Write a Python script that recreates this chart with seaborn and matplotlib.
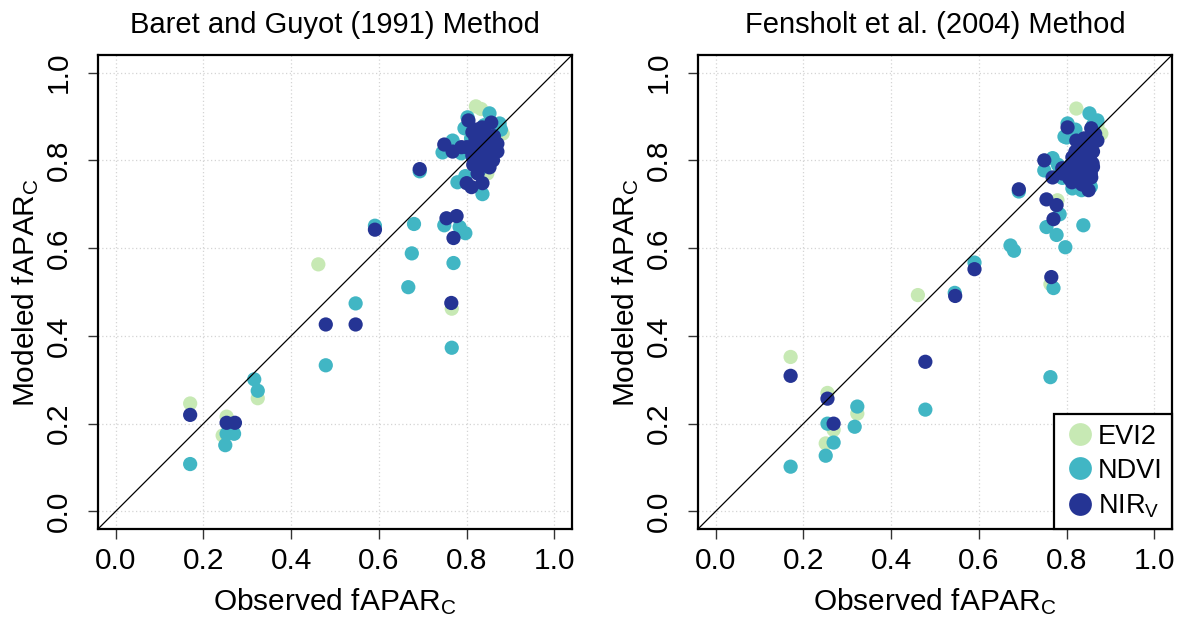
import numpy as np
import pandas as pd
import matplotlib
matplotlib.use("Agg")
import matplotlib.pyplot as plt
import seaborn as sns

# Observed vs modeled canopy fAPAR for three vegetation indices
methods = ["Baret and Guyot (1991) Method", "Fensholt et al. (2004) Method"]
index_labels = ["EVI2", "NDVI", "NIR$_V$"]
index_colors = ["#c7e9b4", "#41b6c4", "#253494"]

# Baret and Guyot (1991)
bg_evi2_obs = [0.170, 0.253, 0.244, 0.324, 0.462, 0.766, 0.821, 0.833, 0.882, 0.847, 0.860]
bg_evi2_mod = [0.246, 0.216, 0.173, 0.258, 0.563, 0.462, 0.923, 0.917, 0.861, 0.770, 0.880]

bg_ndvi_obs = [0.170, 0.253, 0.270, 0.250, 0.316, 0.324, 0.479, 0.547, 0.591, 0.667, 0.675,
               0.680, 0.693, 0.766, 0.770, 0.749, 0.784, 0.797, 0.779, 0.797, 0.836, 0.745,
               0.768, 0.788, 0.795, 0.802, 0.852, 0.875, 0.878, 0.840, 0.860, 0.820, 0.845,
               0.810, 0.830]
bg_ndvi_mod = [0.108, 0.177, 0.177, 0.151, 0.301, 0.275, 0.333, 0.474, 0.651, 0.511, 0.588,
               0.655, 0.775, 0.373, 0.566, 0.652, 0.648, 0.634, 0.750, 0.764, 0.723, 0.818,
               0.845, 0.816, 0.873, 0.898, 0.907, 0.884, 0.870, 0.880, 0.860, 0.800, 0.830,
               0.850, 0.780]

bg_nirv_obs = [0.170, 0.253, 0.272, 0.479, 0.547, 0.591, 0.693, 0.765, 0.770, 0.754, 0.777,
               0.800, 0.811, 0.836, 0.825, 0.749, 0.768, 0.788, 0.804, 0.856, 0.813, 0.834,
               0.825, 0.845, 0.870, 0.813, 0.836, 0.856, 0.829, 0.852, 0.820, 0.840, 0.808,
               0.850, 0.830, 0.815, 0.862, 0.838, 0.820, 0.830, 0.840, 0.850, 0.860, 0.822,
               0.835, 0.845, 0.860, 0.870, 0.800, 0.815]
bg_nirv_mod = [0.220, 0.202, 0.202, 0.426, 0.426, 0.642, 0.780, 0.475, 0.623, 0.668, 0.673,
               0.748, 0.739, 0.748, 0.770, 0.836, 0.820, 0.830, 0.891, 0.886, 0.864, 0.861,
               0.838, 0.845, 0.838, 0.811, 0.807, 0.811, 0.793, 0.784, 0.825, 0.870, 0.830,
               0.825, 0.850, 0.790, 0.855, 0.820, 0.850, 0.830, 0.810, 0.850, 0.830, 0.870,
               0.875, 0.795, 0.800, 0.820, 0.830, 0.805]

# Fensholt et al. (2004)
fe_evi2_obs = [0.171, 0.255, 0.269, 0.251, 0.323, 0.461, 0.763, 0.779, 0.822, 0.879, 0.870]
fe_evi2_mod = [0.352, 0.270, 0.186, 0.155, 0.223, 0.493, 0.518, 0.709, 0.918, 0.861, 0.880]

fe_ndvi_obs = [0.171, 0.255, 0.269, 0.251, 0.323, 0.317, 0.478, 0.545, 0.590, 0.672, 0.680,
               0.691, 0.763, 0.770, 0.754, 0.777, 0.797, 0.784, 0.838, 0.749, 0.768, 0.800,
               0.802, 0.852, 0.870, 0.795, 0.813, 0.834, 0.790, 0.780, 0.860, 0.820, 0.845,
               0.825, 0.855]
fe_ndvi_mod = [0.102, 0.200, 0.157, 0.127, 0.239, 0.193, 0.232, 0.498, 0.567, 0.606, 0.594,
               0.729, 0.306, 0.509, 0.648, 0.630, 0.602, 0.677, 0.652, 0.777, 0.805, 0.852,
               0.884, 0.907, 0.891, 0.854, 0.736, 0.732, 0.760, 0.790, 0.880, 0.870, 0.760,
               0.740, 0.740]

fe_nirv_obs = [0.171, 0.255, 0.269, 0.478, 0.546, 0.590, 0.691, 0.765, 0.770, 0.754, 0.777,
               0.749, 0.768, 0.790, 0.802, 0.856, 0.822, 0.870, 0.845, 0.813, 0.829, 0.859,
               0.806, 0.836, 0.856, 0.850, 0.820, 0.840, 0.825, 0.845, 0.810, 0.855, 0.830,
               0.865, 0.810, 0.820, 0.830, 0.840, 0.850, 0.860, 0.820, 0.830, 0.840, 0.850,
               0.800, 0.790, 0.812, 0.855, 0.860, 0.835]
fe_nirv_mod = [0.309, 0.257, 0.200, 0.341, 0.491, 0.552, 0.734, 0.534, 0.666, 0.711, 0.698,
               0.800, 0.761, 0.782, 0.875, 0.873, 0.845, 0.845, 0.827, 0.807, 0.784, 0.793,
               0.759, 0.755, 0.761, 0.732, 0.780, 0.800, 0.820, 0.775, 0.790, 0.815, 0.765,
               0.860, 0.770, 0.760, 0.800, 0.780, 0.800, 0.820, 0.820, 0.840, 0.850, 0.840,
               0.780, 0.770, 0.750, 0.770, 0.785, 0.745]

panels = [
    [(bg_evi2_obs, bg_evi2_mod), (bg_ndvi_obs, bg_ndvi_mod), (bg_nirv_obs, bg_nirv_mod)],
    [(fe_evi2_obs, fe_evi2_mod), (fe_ndvi_obs, fe_ndvi_mod), (fe_nirv_obs, fe_nirv_mod)],
]
ticks = [0.0, 0.2, 0.4, 0.6, 0.8, 1.0]
tick_labels = ["0.0", "0.2", "0.4", "0.6", "0.8", "1.0"]

sns.set_theme(style="white")
plt.rcParams["font.family"] = ["Liberation Sans", "DejaVu Sans"]
plt.rcParams["mathtext.default"] = "regular"
plt.rcParams["text.color"] = "black"
plt.rcParams["axes.labelcolor"] = "black"
plt.rcParams["xtick.color"] = "black"
plt.rcParams["ytick.color"] = "black"

fig = plt.figure(figsize=(11.84, 6.21), dpi=100)
W, H = 1184, 621
ax_rects = [
    (98 / W, (H - 529) / H, 474 / W, 474 / H),
    (698 / W, (H - 529) / H, 474 / W, 474 / H),
]

palette = dict(zip(index_labels, index_colors))

for p, (title, series) in enumerate(zip(methods, panels)):
    ax = fig.add_axes(ax_rects[p])
    frames = []
    for label, (obs, mod) in zip(index_labels, series):
        frames.append(pd.DataFrame({"observed": obs, "modeled": mod, "index": label}))
    df = pd.concat(frames, ignore_index=True)

    ax.set_axisbelow(True)
    ax.grid(True, color="#d4d4d4", linestyle=(0, (1, 2)), linewidth=0.9)
    sns.scatterplot(data=df, x="observed", y="modeled", hue="index",
                    hue_order=index_labels, palette=palette, s=105,
                    linewidth=0, alpha=1.0, ax=ax, legend=(p == 1), zorder=3)
    ax.axline((0, 0), slope=1, color="black", linewidth=0.9, zorder=4)

    ax.set_xlim(-0.04, 1.04)
    ax.set_ylim(-0.04, 1.04)
    ax.set_xticks(ticks)
    ax.set_yticks(ticks)
    ax.set_xticklabels(tick_labels)
    ax.set_yticklabels(tick_labels, rotation=90, va="center")
    ax.tick_params(axis="both", which="major", direction="out", length=7,
                   width=1.0, color="#333333", labelcolor="black", labelsize=21.5,
                   bottom=True, left=True)
    ax.tick_params(axis="x", pad=6)
    ax.tick_params(axis="y", pad=11)
    for sp in ax.spines.values():
        sp.set_visible(True)
        sp.set_color("black")
        sp.set_linewidth(1.6)

    ax.set_title(title, fontsize=21, pad=16, color="black")
    ax.set_xlabel("Observed fAPAR$_C$", fontsize=21.5, labelpad=8, color="black")
    ax.set_ylabel("Modeled fAPAR$_C$", fontsize=21.5, labelpad=3, color="black")

    if p == 1:
        leg = ax.legend(loc="lower right", borderaxespad=0, frameon=True,
                        fontsize=19.5, handletextpad=0.05, borderpad=0.35,
                        labelspacing=0.3, handlelength=1.2, fancybox=False,
                        markerscale=1.6)
        leg.get_frame().set_edgecolor("black")
        leg.get_frame().set_linewidth(1.6)
        leg.get_frame().set_alpha(1.0)
        leg.set_zorder(6)
        for t in leg.get_texts():
            t.set_color("black")

fig.savefig("out.png", dpi=100)
